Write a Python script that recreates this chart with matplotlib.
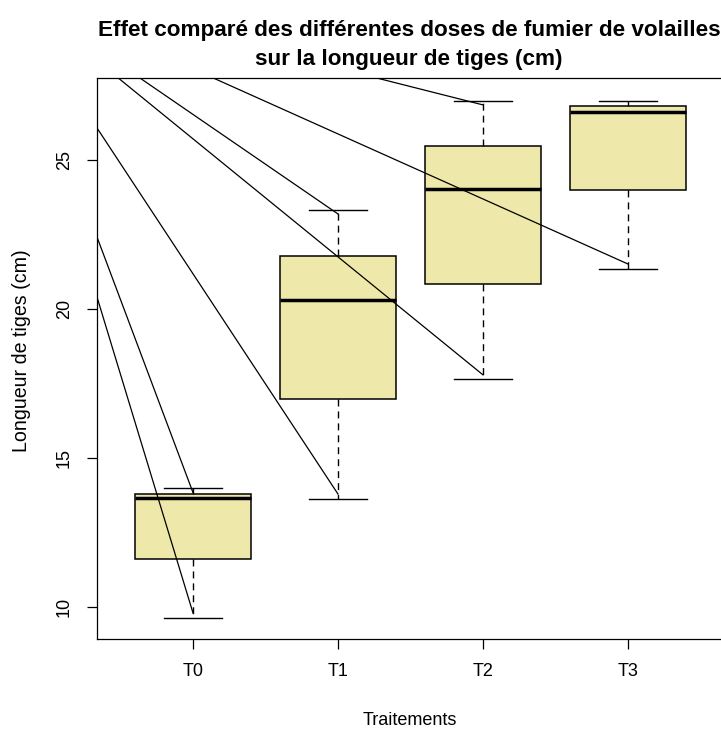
import matplotlib
matplotlib.use("Agg")
import matplotlib.pyplot as plt

plt.rcParams['font.family'] = ['Liberation Sans', 'DejaVu Sans']

# ---- data ----
categories = ["T0", "T1", "T2", "T3"]
whisker_low = [9.63, 13.63, 17.64, 21.33]
q1 = [11.61, 16.97, 20.83, 23.99]
median = [13.66, 20.31, 24.02, 26.62]
q3 = [13.79, 21.79, 25.47, 26.82]
whisker_high = [13.99, 23.32, 26.98, 26.98]

# straight lines running from a common point above/left of the plot
line_origin_x = -0.32
line_origin_y = 30.94
line_end_x = [1, 1, 2, 2, 3, 3, 4]
line_end_y = [9.80, 13.84, 13.79, 23.19, 17.79, 26.85, 21.51]

title = "Effet comparé des différentes doses de fumier de volailles\nsur la longueur de tiges (cm)"
xlabel = "Traitements"
ylabel = "Longueur de tiges (cm)"
yticks = [10, 15, 20, 25]

W, H = 721, 729
fig = plt.figure(figsize=(W / 100, H / 100), dpi=100)
left_px, right_px, top_px, bottom_px = 97, 723.7, 77.5, 639
ax = fig.add_axes([left_px / W, 1 - bottom_px / H, (right_px - left_px) / W, (bottom_px - top_px) / H])

stats = []
for i, c in enumerate(categories):
    stats.append(dict(label=c, whislo=whisker_low[i], q1=q1[i], med=median[i],
                      q3=q3[i], whishi=whisker_high[i], fliers=[]))

positions = list(range(1, len(categories) + 1))
ax.bxp(stats, positions=positions, widths=0.8, capwidths=0.4, patch_artist=True,
       showfliers=False,
       boxprops=dict(facecolor="#EEE8AA", edgecolor="black", linewidth=1.1),
       medianprops=dict(color="black", linewidth=2.5, solid_capstyle="butt"),
       whiskerprops=dict(color="black", linewidth=1.0, linestyle=(0, (5, 3.6))),
       capprops=dict(color="black", linewidth=1.0),
       manage_ticks=False, zorder=2)

for ex, ey in zip(line_end_x, line_end_y):
    ax.plot([line_origin_x, ex], [line_origin_y, ey], color="black", linewidth=0.9,
            zorder=3, clip_on=True)

ax.set_xlim(0.338, 4.66)
ax.set_ylim(8.926, 27.77)

ax.set_xticks(positions)
ax.set_xticklabels(categories)
ax.set_yticks(yticks)
ax.set_yticklabels([str(t) for t in yticks], rotation=90, va="center")
ax.tick_params(axis="both", direction="out", length=7.2, width=0.9, labelsize=13,
               color="black", labelcolor="black")
ax.tick_params(axis="x", pad=10)
ax.tick_params(axis="y", pad=10)
for s in ax.spines.values():
    s.set_linewidth(0.9)
    s.set_color("black")

fig.text(409 / W, 1 - 45 / H, title, ha="center", va="center", fontsize=16.2,
         fontweight="bold", linespacing=1.45)
fig.text(410 / W, 4 / H, xlabel, ha="center", va="baseline", fontsize=13)
fig.text(21.7 / W, 1 - 351 / H, ylabel, ha="center", va="center", rotation=90, fontsize=14.1)

fig.savefig("out.png", dpi=100)
